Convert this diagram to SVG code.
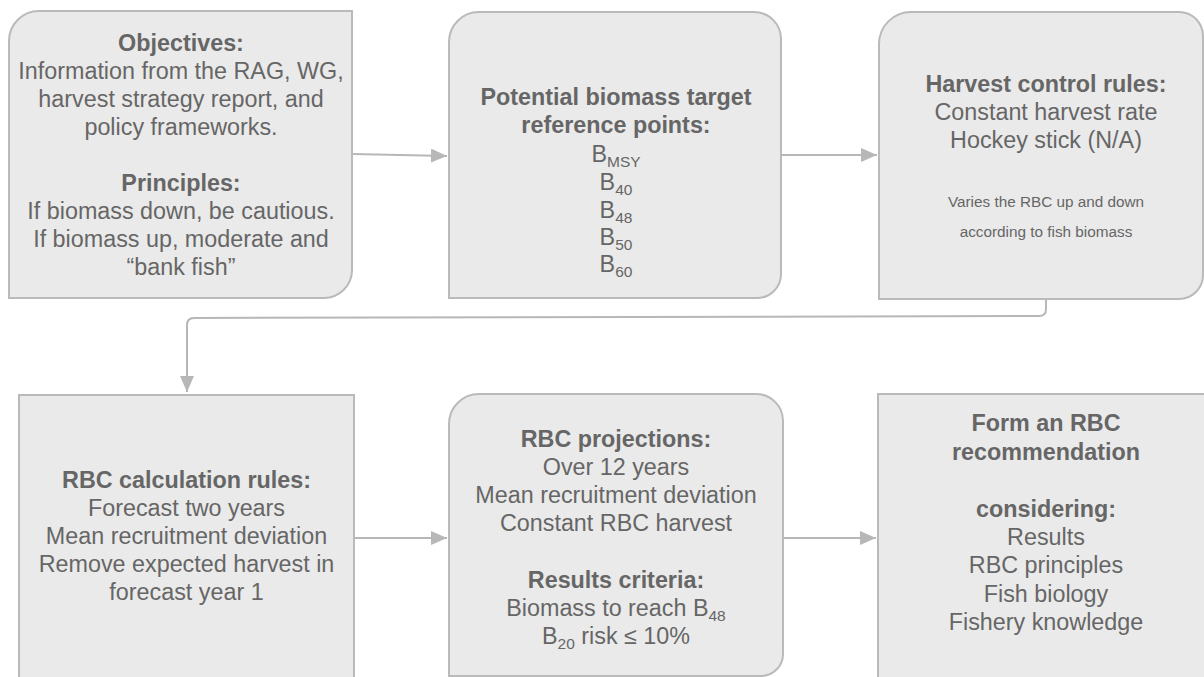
<svg xmlns="http://www.w3.org/2000/svg" width="1204" height="677" viewBox="0 0 1204 677">
<style>
.box{fill:#eaeaea;stroke:#bababa;stroke-width:2}
.t{font-family:"Liberation Sans",Arial,sans-serif;font-size:23.33px;fill:#666666;text-anchor:middle}
.b{font-weight:bold}
.s{font-size:15.3px}
.sub{font-size:15.5px}
.c{fill:none;stroke:#b7b7b7;stroke-width:2}
</style>
<defs>
<marker id="ah" markerUnits="userSpaceOnUse" markerWidth="16" markerHeight="14" refX="16" refY="7" orient="auto">
<path d="M0,0 L16,7 L0,14 Z" fill="#b7b7b7"/>
</marker>
</defs>
<rect width="1204" height="677" fill="#ffffff"/>
<g id="connectors">
<path class="c" d="M352,154 L447,156" marker-end="url(#ah)"/>
<path class="c" d="M781,155 L877,155" marker-end="url(#ah)"/>
<path class="c" d="M1046,299 V309 Q1046,316 1039,316 L194,318 Q187,318 187,325 V392" marker-end="url(#ah)"/>
<path class="c" d="M354,538 L447,538" marker-end="url(#ah)"/>
<path class="c" d="M783,538 L876,538" marker-end="url(#ah)"/>
</g>
<g id="objectives">
<path class="box" d="M9,298 V41 A30,30 0 0 1 39,11 H352 V270 A28,28 0 0 1 324,298 Z"/>
<text class="t"><tspan class="b" x="181" y="51">Objectives:</tspan><tspan x="181" y="79">Information from the RAG, WG,</tspan><tspan x="181" y="107">harvest strategy report, and</tspan><tspan x="181" y="135">policy frameworks.</tspan><tspan class="b" x="181" y="191">Principles:</tspan><tspan x="181" y="219">If biomass down, be cautious.</tspan><tspan x="181" y="247">If biomass up, moderate and</tspan><tspan x="181" y="275">“bank fish”</tspan></text>
</g>
<g id="reference-points">
<path class="box" d="M449,298 V42 A30,30 0 0 1 479,12 H754 A27,27 0 0 1 781,39 V274 A24,24 0 0 1 757,298 Z"/>
<text class="t"><tspan class="b" x="616" y="105">Potential biomass target</tspan><tspan class="b" x="616" y="133">reference points:</tspan></text>
<text class="t" x="616" y="162">B<tspan class="sub" dy="5">MSY</tspan></text>
<text class="t" x="616" y="190">B<tspan class="sub" dy="5">40</tspan></text>
<text class="t" x="616" y="218">B<tspan class="sub" dy="5">48</tspan></text>
<text class="t" x="616" y="245">B<tspan class="sub" dy="5">50</tspan></text>
<text class="t" x="616" y="272">B<tspan class="sub" dy="5">60</tspan></text>
</g>
<g id="harvest-control-rules">
<path class="box" d="M879,299 V44 A32,32 0 0 1 911,12 H1179 A24,24 0 0 1 1203,36 V275 A24,24 0 0 1 1179,299 Z"/>
<text class="t"><tspan class="b" x="1046" y="92">Harvest control rules:</tspan><tspan x="1046" y="120">Constant harvest rate</tspan><tspan x="1046" y="148">Hockey stick (N/A)</tspan></text>
<text class="t s"><tspan x="1046" y="206.5">Varies the RBC up and down</tspan><tspan x="1046" y="236.5">according to fish biomass</tspan></text>
</g>
<g id="rbc-calculation-rules">
<rect class="box" x="19" y="395" width="335" height="310"/>
<text class="t"><tspan class="b" x="186.5" y="488">RBC calculation rules:</tspan><tspan x="186.5" y="516">Forecast two years</tspan><tspan x="186.5" y="544">Mean recruitment deviation</tspan><tspan x="186.5" y="572">Remove expected harvest in</tspan><tspan x="186.5" y="600">forecast year 1</tspan></text>
</g>
<g id="rbc-projections">
<path class="box" d="M449,676 V424 A30,30 0 0 1 479,394 H756 A27,27 0 0 1 783,421 V654 A22,22 0 0 1 761,676 Z"/>
<text class="t"><tspan class="b" x="616" y="447">RBC projections:</tspan><tspan x="616" y="475">Over 12 years</tspan><tspan x="616" y="503">Mean recruitment deviation</tspan><tspan x="616" y="531">Constant RBC harvest</tspan><tspan class="b" x="616" y="588">Results criteria:</tspan><tspan x="616" y="616">Biomass to reach B<tspan class="sub" dy="5">48</tspan></tspan></text>
<text class="t" x="616" y="644">B<tspan class="sub" dy="5">20</tspan><tspan dy="-5"> risk ≤ 10%</tspan></text>
</g>
<g id="rbc-recommendation">
<rect class="box" x="878" y="394" width="340" height="310"/>
<text class="t"><tspan class="b" x="1046" y="431">Form an RBC</tspan><tspan class="b" x="1046" y="459.5">recommendation</tspan><tspan class="b" x="1046" y="516.5">considering:</tspan><tspan x="1046" y="545">Results</tspan><tspan x="1046" y="573">RBC principles</tspan><tspan x="1046" y="601.5">Fish biology</tspan><tspan x="1046" y="630">Fishery knowledge</tspan></text>
</g>
</svg>
